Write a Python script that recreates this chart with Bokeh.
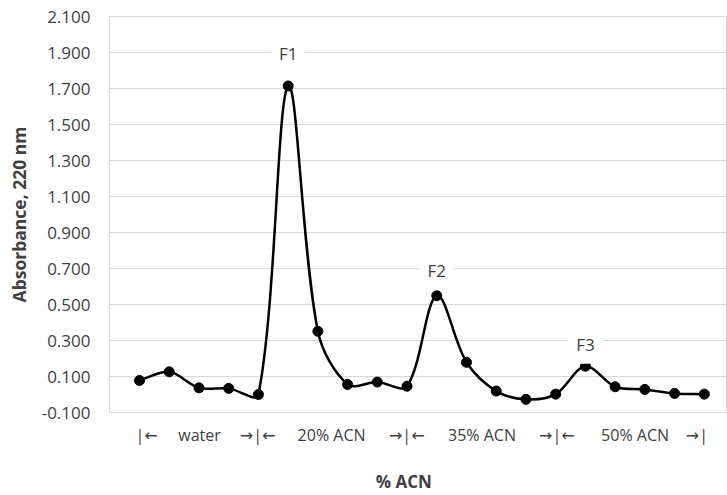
import numpy as np
from bokeh.plotting import figure
from bokeh.models import Range1d, FixedTicker, PrintfTickFormatter, Label, LinearAxis
from bokeh.embed import file_html
from bokeh.resources import INLINE

# ---- data ----
fraction = list(range(1, 21))
absorbance = [0.078, 0.126, 0.037, 0.034, 0.000, 1.714, 0.351, 0.056, 0.069, 0.046,
              0.549, 0.179, 0.019, -0.027, 0.002, 0.157, 0.043, 0.028, 0.006, 0.002]
y_ticks = [-0.1, 0.1, 0.3, 0.5, 0.7, 0.9, 1.1, 1.3, 1.5, 1.7, 1.9, 2.1]
segment_labels = ["|←", "water", "→|←", "20% ACN", "→|←", "35% ACN", "→|←", "50% ACN", "→|"]
segment_pos = [1.24, 3.02, 4.97, 7.46, 9.99, 12.52, 15.04, 17.67, 19.75]
peak_names = ["F1", "F2", "F3"]
peak_fraction = [6, 11, 16]
x_title = "% ACN"
x_title_pos = 9.89
y_title = "Absorbance, 220 nm"

# ---- layout ----
W, H = 727, 495
BL, BR, BT, BB = 109, 0, 16, 82
XR = (-0.01, 20.78)
YR = (-0.1, 2.1)
TEXT = "#404040"
GRID = "#d9d9d9"
FONT = "'Open Sans', 'DejaVu Sans'"

p = figure(width=W, height=H, output_backend="svg", toolbar_location=None,
           x_range=Range1d(*XR), y_range=Range1d(*YR),
           min_border_left=BL, min_border_right=BR, min_border_top=BT, min_border_bottom=BB,
           x_axis_type=None)
p.outline_line_color = GRID
p.background_fill_color = "white"
p.border_fill_color = "white"
p.xgrid.visible = False
p.ygrid.grid_line_color = GRID
p.ygrid.ticker = FixedTicker(ticks=y_ticks)

# y axis
ya = p.yaxis[0]
ya.ticker = FixedTicker(ticks=y_ticks)
ya.formatter = PrintfTickFormatter(format="%.3f")
ya.axis_line_color = None
ya.major_tick_line_color = None
ya.minor_tick_line_color = None
ya.major_tick_out = 0
ya.major_label_standoff = 19
ya.major_label_text_font = "Open Sans"
ya.major_label_text_font_size = "17px"
ya.major_label_text_color = TEXT
ya.axis_label = y_title
ya.axis_label_text_font = "Open Sans"
ya.axis_label_text_font_size = "17.5px"
ya.axis_label_text_font_style = "bold"
ya.axis_label_text_color = TEXT
ya.axis_label_standoff = 8

# x axis with segment labels
xa = LinearAxis(ticker=FixedTicker(ticks=segment_pos),
                major_label_overrides={pos: lab for pos, lab in zip(segment_pos, segment_labels)})
xa.axis_line_color = GRID
xa.major_tick_line_color = None
xa.minor_tick_line_color = None
xa.major_tick_out = 0
xa.major_label_standoff = 11
xa.major_label_text_font = FONT
xa.major_label_text_font_size = "16px"
xa.major_label_text_color = TEXT
p.add_layout(xa, "below")

# x title as a second axis row
xt = LinearAxis(ticker=FixedTicker(ticks=[x_title_pos]),
                major_label_overrides={x_title_pos: x_title})
xt.axis_line_color = None
xt.major_tick_line_color = None
xt.minor_tick_line_color = None
xt.major_tick_out = 0
xt.major_label_standoff = 21
xt.major_label_text_font = "Open Sans"
xt.major_label_text_font_size = "17px"
xt.major_label_text_font_style = "bold"
xt.major_label_text_color = TEXT
p.add_layout(xt, "below")

# ---- smoothed line (Excel-like Bezier) ----
X = np.array(fraction, dtype=float)
Y = np.array(absorbance, dtype=float)
n = len(X)
sx = (W - BL - BR) / (XR[1] - XR[0])
sy = (H - BT - BB) / (YR[1] - YR[0])
L = np.hypot(np.diff(X) * sx, np.diff(Y) * sy)
cx0, cy0, cx1, cy1 = [], [], [], []
for i in range(n - 1):
    ip = max(i - 1, 0)
    Lp = L[i - 1] if i > 0 else 0.0
    Ln = L[i]
    f = Ln / (Lp + Ln) / 3.0
    cx0.append(X[i] + (X[i + 1] - X[ip]) * f)
    cy0.append(Y[i] + (Y[i + 1] - Y[ip]) * f)
    j = i + 1
    jn = min(j + 1, n - 1)
    Lp = L[j - 1]
    Ln = L[j] if j < n - 1 else 0.0
    f = Lp / (Lp + Ln) / 3.0
    cx1.append(X[j] - (X[jn] - X[i]) * f)
    cy1.append(Y[j] - (Y[jn] - Y[i]) * f)

p.bezier(x0=X[:-1], y0=Y[:-1], x1=X[1:], y1=Y[1:],
         cx0=cx0, cy0=cy0, cx1=cx1, cy1=cy1,
         line_color="black", line_width=2.5)
p.scatter(X, Y, size=10, fill_color="black", line_color="black")

# peak labels
offsets = [32, 25, 22]
for name, fr, off in zip(peak_names, peak_fraction, offsets):
    p.add_layout(Label(x=fr, y=absorbance[fr - 1], y_offset=off, text=name,
                       text_align="center", text_baseline="middle",
                       text_font="Open Sans", text_font_size="17px", text_color=TEXT,
                       background_fill_color="white", padding=8))

open("out.html", "w").write(file_html(p, INLINE))
